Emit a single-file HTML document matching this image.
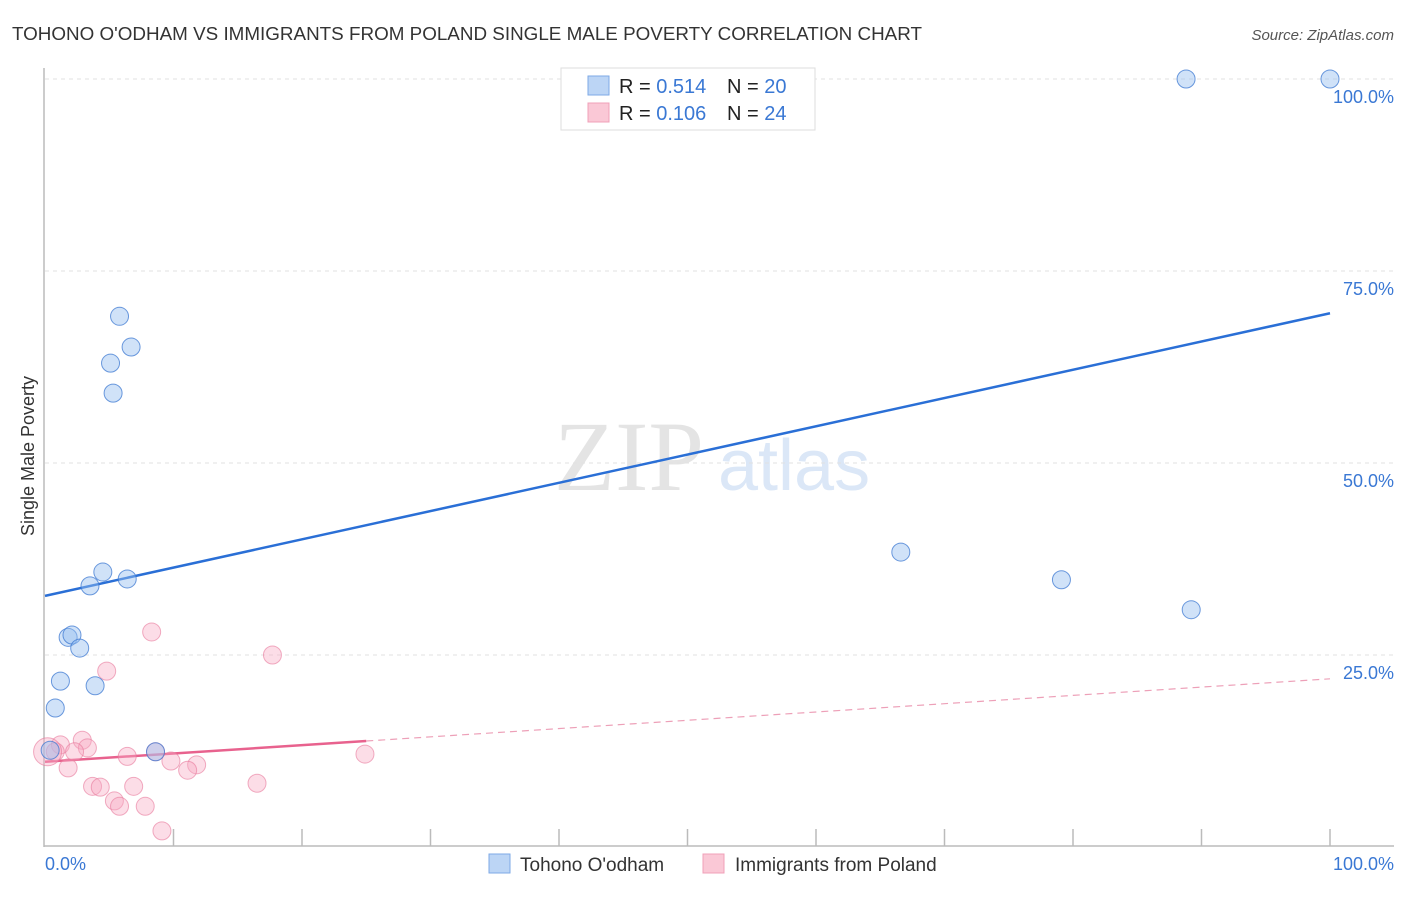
<!DOCTYPE html>
<html><head><meta charset="utf-8"><style>
body{margin:0;background:#fff;width:1406px;height:892px;overflow:hidden;font-family:"Liberation Sans",sans-serif}
</style></head><body>
<svg id="chart" width="1406" height="892" xmlns="http://www.w3.org/2000/svg">
<text x="12" y="40" font-size="18" fill="#333" textLength="910" lengthAdjust="spacingAndGlyphs">TOHONO O'ODHAM VS IMMIGRANTS FROM POLAND SINGLE MALE POVERTY CORRELATION CHART</text>
<text x="1394" y="40" font-size="15" fill="#555" font-style="italic" text-anchor="end">Source: ZipAtlas.com</text>
<text x="554" y="490" font-size="100" fill="#e4e4e4" font-family="Liberation Serif,serif">ZIP</text>
<text x="718" y="490" font-size="72" fill="#dbe7f7">atlas</text>
<g id="grid"></g>
<g id="axes"></g>
<g id="lines"></g>
<g id="points"></g>
<text x="34" y="456" font-size="18" fill="#333" text-anchor="middle" transform="rotate(-90 34 456)">Single Male Poverty</text>
<text x="45" y="870" font-size="18" fill="#3a78d4">0.0%</text>
<text x="1394" y="870" font-size="18" fill="#3a78d4" text-anchor="end">100.0%</text>
<g>
<rect x="561" y="68" width="254" height="62" fill="#fff" stroke="#ddd"/>
<rect x="588" y="76" width="21" height="19" fill="#bcd5f5" stroke="#7ea9e6"/>
<rect x="588" y="103" width="21" height="19" fill="#fac8d6" stroke="#f0a0b8"/>
<text x="619" y="93" font-size="20" fill="#222">R = <tspan fill="#3a78d4">0.514</tspan><tspan x="727">N = </tspan><tspan fill="#3a78d4">20</tspan></text>
<text x="619" y="120" font-size="20" fill="#222">R = <tspan fill="#3a78d4">0.106</tspan><tspan x="727">N = </tspan><tspan fill="#3a78d4">24</tspan></text>
</g>
<g>
<rect x="489" y="854" width="21" height="19" fill="#bcd5f5" stroke="#7ea9e6"/>
<text x="520" y="871" font-size="19" fill="#333">Tohono O'odham</text>
<rect x="703" y="854" width="21" height="19" fill="#fac8d6" stroke="#f0a0b8"/>
<text x="735" y="871" font-size="19" fill="#333">Immigrants from Poland</text>
</g>
</svg>
<script>
const yTicks=[25,50,75,100];
const yTickLabels=["25.0%","50.0%","75.0%","100.0%"];
const blueX=[88.8,100,5.8,6.7,5.1,5.3,66.6,79.1,89.2,4.5,6.4,3.5,1.8,2.1,2.7,1.2,3.9,0.8,8.6,0.4];
const blueY=[100,100,69.1,65.1,63.0,59.1,38.4,34.8,30.9,35.8,34.9,34.0,27.3,27.6,25.9,21.6,21.0,18.1,12.4,12.6];
const pinkX=[4.8,8.3,17.7,2.9,3.3,1.2,0.8,1.8,6.4,9.8,11.8,11.1,8.6,24.9,3.7,4.3,6.9,16.5,5.4,5.8,7.8,9.1,0.2,2.3];
const pinkY=[22.9,28.0,25.0,13.9,12.9,13.3,12.4,10.3,11.8,11.2,10.7,10.0,12.4,12.1,7.9,7.8,7.9,8.3,6.0,5.3,5.3,2.1,12.4,12.4];
const blueTrend=[32.7,69.5];
const pinkTrend=[11.1,21.9];
const pinkSolidEnd=25;
const NS="http://www.w3.org/2000/svg";
const xs=v=>45+v*12.85, ys=v=>847-v*7.68;
function mk(tag,attrs,parent){const e=document.createElementNS(NS,tag);for(const k in attrs)e.setAttribute(k,attrs[k]);document.getElementById(parent).appendChild(e);return e;}
yTicks.forEach((t,i)=>{
 const g=mk('line',{x1:45,x2:1394,y1:ys(t),y2:ys(t),stroke:'#e2e2e2','stroke-dasharray':'4,4'},'grid');
 
 
 const l=mk('text',{x:1394,y:ys(t)+24,'font-size':18,fill:'#3a78d4','text-anchor':'end'},'grid');
 l.textContent=yTickLabels[i];
 
 
});
const ax=mk('line',{x1:44,x2:44,y1:68,y2:847,stroke:'#bbb','stroke-width':1.5},'axes');


const bx=mk('line',{x1:44,x2:1394,y1:846,y2:846,stroke:'#bbb','stroke-width':1.5},'axes');


for(let i=1;i<=10;i++){const t=mk('line',{x1:xs(i*10),x2:xs(i*10),y1:829,y2:846,stroke:'#bbb','stroke-width':1.5},'axes');
 
 }
const bl=mk('line',{x1:xs(0),y1:ys(blueTrend[0]),x2:xs(100),y2:ys(blueTrend[1]),stroke:'#2a6fd6','stroke-width':2.5},'lines');


const pAt=v=>pinkTrend[0]+(pinkTrend[1]-pinkTrend[0])*v/100;
const pl=mk('line',{x1:xs(0),y1:ys(pAt(0)),x2:xs(pinkSolidEnd),y2:ys(pAt(pinkSolidEnd)),stroke:'#e8628e','stroke-width':2.5},'lines');


const pd=mk('line',{x1:xs(pinkSolidEnd),y1:ys(pAt(pinkSolidEnd)),x2:xs(100),y2:ys(pAt(100)),stroke:'#eda0b8','stroke-width':1.2,'stroke-dasharray':'7,5'},'lines');


pinkX.forEach((x,i)=>{const c=mk('circle',{cx:xs(x),cy:ys(pinkY[i]),r:(i==22?14:9),fill:'rgba(248,170,195,0.4)',stroke:'rgba(232,120,155,0.6)','stroke-width':1},'points');
 
 });
blueX.forEach((x,i)=>{const c=mk('circle',{cx:xs(x),cy:ys(blueY[i]),r:9,fill:'rgba(150,190,240,0.45)',stroke:'rgba(60,120,210,0.75)','stroke-width':1},'points');
 
 });
</script>
</body></html>
